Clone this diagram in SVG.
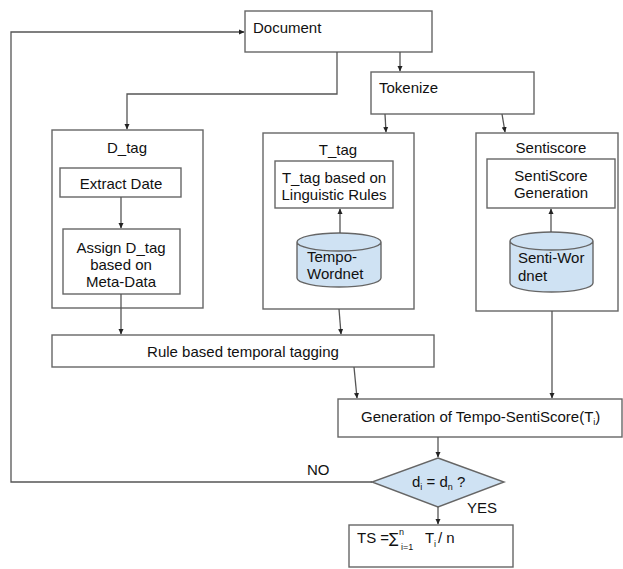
<svg xmlns="http://www.w3.org/2000/svg" width="623" height="569" viewBox="0 0 623 569">
<defs>
<marker id="ah" markerWidth="6" markerHeight="6" refX="5" refY="3" orient="auto" markerUnits="userSpaceOnUse">
<path d="M0,0.5 L5.5,3 L0,5.5 z" fill="#222"/>
</marker>
<style>
.box{fill:#fff;stroke:#666;stroke-width:1.4}
.db{fill:#cfe2f3;stroke:#666;stroke-width:1.4}
.ar{fill:none;stroke:#555;stroke-width:1.3;marker-end:url(#ah)}
text{font-family:"Liberation Sans",Arial,sans-serif;font-size:15px;fill:#111}
.c{text-anchor:middle}
.s{font-size:9px}
.sum{font-family:"DejaVu Sans",sans-serif;font-size:14px}
</style>
</defs>
<rect width="623" height="569" fill="#fff"/>
<g id="document"><rect class="box" x="245" y="11" width="187" height="41"/><text x="253" y="33">Document</text></g>
<g id="tokenize"><rect class="box" x="371" y="72" width="163" height="42"/><text x="379" y="93">Tokenize</text></g>
<g id="dtag"><rect class="box" x="52" y="130" width="151" height="178"/><text class="c" x="127" y="153">D_tag</text></g>
<g id="extract"><rect class="box" x="60" y="168" width="121" height="29"/><text class="c" x="121" y="189">Extract Date</text></g>
<g id="assign"><rect class="box" x="63" y="229" width="117" height="65"/><text class="c" x="121" y="253">Assign D_tag</text><text class="c" x="121" y="270">based on</text><text class="c" x="121" y="287">Meta-Data</text></g>
<g id="ttag"><rect class="box" x="263" y="133" width="151" height="176"/><text class="c" x="338" y="155">T_tag</text></g>
<g id="trules"><rect class="box" x="275" y="161" width="118" height="47"/><text class="c" x="334" y="183">T_tag based on</text><text class="c" x="334" y="200">Linguistic Rules</text></g>
<g id="tempowordnet"><path class="db" d="M297,242 L297,278 A42,9 0 0 0 381,278 L381,242 A42,9 0 0 0 297,242 A42,9 0 0 0 381,242"/><text x="307" y="262">Tempo-</text><text x="307" y="279">Wordnet</text></g>
<g id="sentiscore"><rect class="box" x="476" y="133" width="142" height="178"/><text class="c" x="551" y="153">Sentiscore</text></g>
<g id="sgen"><rect class="box" x="487" y="159" width="128" height="49"/><text class="c" x="551" y="181">SentiScore</text><text class="c" x="551" y="198">Generation</text></g>
<g id="sentiwordnet"><path class="db" d="M510,241 L510,283 A41.5,9 0 0 0 593,283 L593,241 A41.5,9 0 0 0 510,241 A41.5,9 0 0 0 593,241"/><text x="518" y="263">Senti-Wor</text><text x="518" y="281">dnet</text></g>
<g id="rule"><rect class="box" x="52" y="335" width="382" height="32"/><text class="c" x="243" y="357">Rule based temporal tagging</text></g>
<g id="generation"><rect class="box" x="338" y="399" width="284" height="38"/><text x="361" y="422">Generation of Tempo-SentiScore(T<tspan class="s" dy="3">i</tspan><tspan dy="-3">)</tspan></text></g>
<g id="decision"><polygon class="db" points="438,458 504,482 438,507 372,482"/><text x="412" y="487">d<tspan class="s" dy="3">i</tspan><tspan dy="-3"> = d</tspan><tspan class="s" dy="3">n</tspan><tspan dy="-3"> ?</tspan></text></g>
<g id="ts"><rect class="box" x="349" y="525" width="164" height="42"/><text x="357" y="543">TS =</text><text class="sum" x="389" y="543">∑</text><text class="s" x="399" y="535">n</text><text class="s" x="401" y="550">i=1</text><text x="425" y="543">T</text><text class="s" x="434" y="547">i</text><text x="438" y="543">/ n</text></g>
<g id="connectors">
<path class="ar" d="M372,482 L11,482 L11,32 L244,32"/>
<path class="ar" d="M337,52 L337,94 L127,94 L127,129"/>
<path class="ar" d="M400,52 L400,71"/>
<path class="ar" d="M385,114 L386,132"/>
<path class="ar" d="M502,114 L505,132"/>
<path class="ar" d="M121,197 L121,228"/>
<path class="ar" d="M121,294 L121,334"/>
<path class="ar" d="M340,233 L340,209"/>
<path class="ar" d="M551,232 L551,209"/>
<path class="ar" d="M339,309 L341,334"/>
<path class="ar" d="M354,367 L357,398"/>
<path class="ar" d="M552,311 L552,398"/>
<path class="ar" d="M438,437 L438,457"/>
<path class="ar" d="M438,507 L438,524"/>
<text x="307" y="475">NO</text>
<text x="467" y="513">YES</text>
</g>
</svg>
